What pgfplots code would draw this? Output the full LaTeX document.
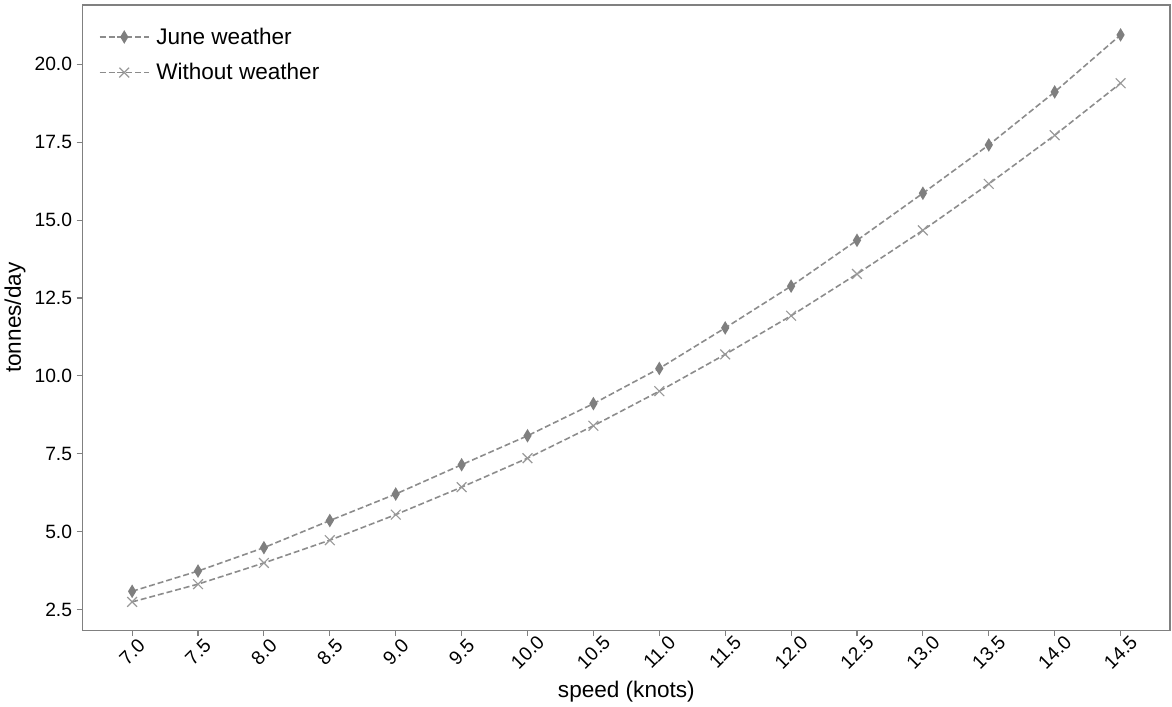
\documentclass[border=0pt]{standalone}
\usepackage{fontspec}
\setmainfont{Liberation Sans}
\usepackage{pgfplots}
\pgfplotsset{compat=1.18}

\definecolor{spine}{HTML}{808080}
\definecolor{dashgray}{HTML}{8C8C8C}
\definecolor{diamondgray}{HTML}{7F7F7F}
\definecolor{crossgray}{HTML}{999999}

\pgfplotsset{
  dashleg/.style={legend image code/.code={%
    \draw[mark repeat=2,mark phase=2,##1] plot coordinates {(0pt,0pt) (18.5pt,0pt) (37pt,0pt)};}},
}

\begin{document}
\begin{tikzpicture}
\begin{axis}[
  scale only axis, width=819pt, height=471pt,
  xmin=6.625, xmax=14.875, ymin=1.84, ymax=21.9,
  /pgf/number format/assume math mode=true,
  /pgf/number format/fixed, /pgf/number format/fixed zerofill,
  /pgf/number format/precision=1,
  xtick={7,7.5,...,14.5}, ytick={2.5,5,...,20},
  x tick label style={font=\fontsize{14.5}{16}\selectfont, rotate=45, anchor=center},
  xticklabel shift=12pt,
  y tick label style={font=\fontsize{14.5}{16}\selectfont},
  tick align=outside, tick pos=left, major tick length=4.5pt,
  tick style={spine, line width=0.8pt},
  axis line style={spine, line width=1pt},
  xlabel={speed (knots)}, ylabel={tonnes/day},
  label style={font=\fontsize{17}{19}\selectfont},
  legend style={draw=none, fill=none, at={(0,1)}, anchor=north west,
    xshift=9pt, yshift=-13pt, font=\fontsize{17}{19}\selectfont,
    row sep=9pt, cells={anchor=west},
    /tikz/every odd column/.append style={column sep=3pt}},
  dashleg,
]
\addplot[dashgray, line width=1.2pt, dash pattern=on 4.5pt off 2.2pt,
  mark=diamond*, mark size=4pt,
  mark options={solid, xscale=0.8, fill=diamondgray, draw=diamondgray}]
  coordinates {
  (7.0,3.09) (7.5,3.74) (8.0,4.49) (8.5,5.36) (9.0,6.21) (9.5,7.15)
  (10.0,8.08) (10.5,9.11) (11.0,10.24) (11.5,11.54) (12.0,12.88)
  (12.5,14.35) (13.0,15.86) (13.5,17.41) (14.0,19.11) (14.5,20.94)
  };
\addlegendentry{June weather}
\addplot[dashgray, line width=1.2pt, dash pattern=on 4.5pt off 2.2pt,
  mark=x, mark size=5.2pt,
  mark options={solid, draw=crossgray, line width=0.9pt}]
  coordinates {
  (7.0,2.75) (7.5,3.32) (8.0,4.00) (8.5,4.73) (9.0,5.55) (9.5,6.43)
  (10.0,7.36) (10.5,8.40) (11.0,9.51) (11.5,10.69) (12.0,11.93)
  (12.5,13.27) (13.0,14.67) (13.5,16.16) (14.0,17.72) (14.5,19.39)
  };
\addlegendentry{Without weather}
\end{axis}
\path (current axis.south west) ++(-58.5pt,-55.5pt);
\path (current axis.north east) ++(1.5pt,3.75pt);
\end{tikzpicture}
\end{document}
